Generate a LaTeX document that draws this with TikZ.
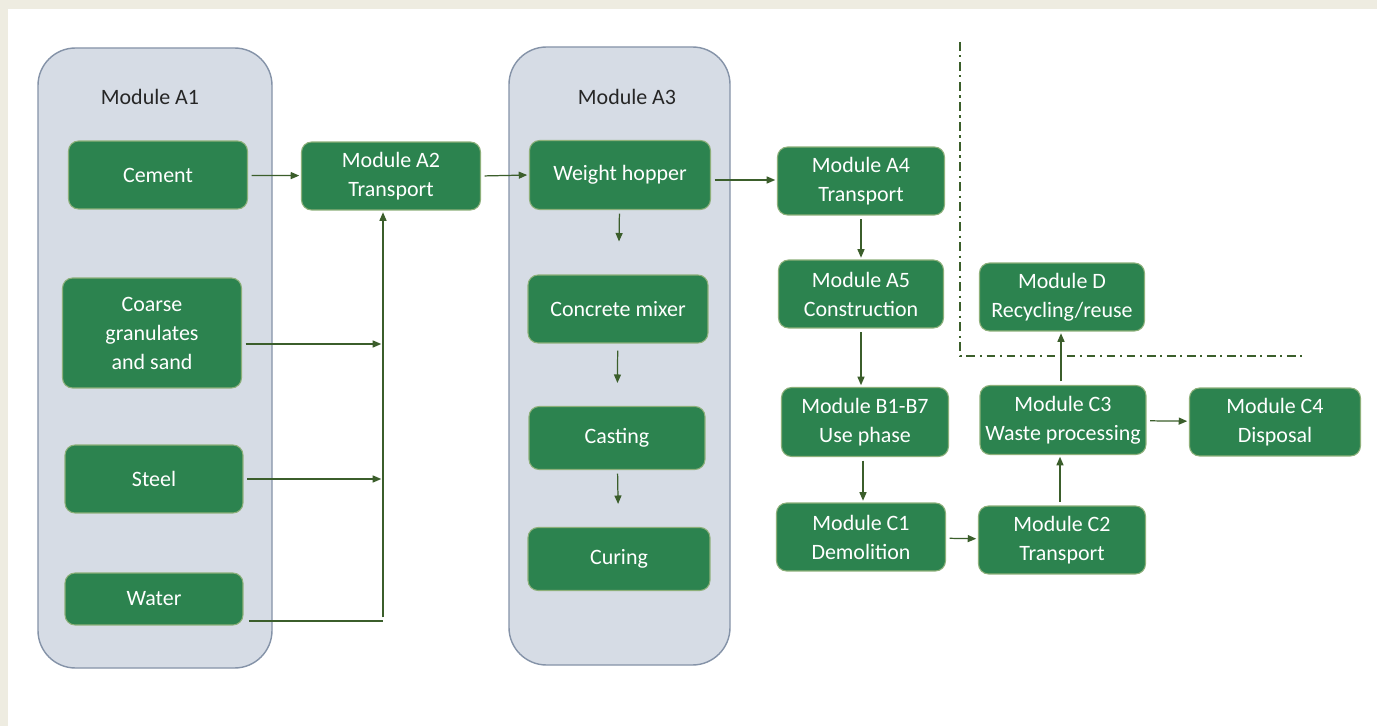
\documentclass[tikz,border=0pt]{standalone}
\usepackage{fontspec}
\setmainfont{Carlito}
\usepackage{tikz}
\usetikzlibrary{arrows.meta}
\definecolor{boxgreen}{HTML}{2C834F}
\definecolor{boxedge}{HTML}{8DB07A}
\definecolor{linegreen}{HTML}{3B5E2B}
\definecolor{groupfill}{HTML}{D6DCE5}
\definecolor{groupedge}{HTML}{8593A8}
\definecolor{pagebeige}{HTML}{EEECE1}

\begin{document}
\begin{tikzpicture}[x=0.02cm, y=-0.02cm,
    every node/.style={font=\fontsize{12.5}{16.5}\selectfont},
    module/.style={draw=boxedge, fill=boxgreen, text=white, rounded corners=0.2cm,
      align=center, inner sep=0pt, line width=0.6pt,
      minimum width=3.34cm, minimum height=1.36cm},
    group/.style={draw=groupedge, fill=groupfill, rounded corners=0.75cm, line width=0.8pt},
    flow/.style={draw=linegreen, line width=0.7pt, shorten <=2pt, shorten >=1pt,
      -{Triangle[length=0.17cm,width=0.14cm]}}]
     % page
     \fill[pagebeige] (0,0) rectangle (1377,726);
     \fill[white] (8,9) rectangle (1377,726);

     % Draw the two groups
     \draw[group] (38,48) rectangle (272,668);
     \node[text=black!85] (labA1) at (150,97) {Module A1};
     \draw[group] (509,47) rectangle (730,665);
     \node[text=black!85] (labA3) at (627,97) {Module A3};

     % raw materials
     \node[module, minimum width=3.58cm] (cement) at (158,175) {Cement};
     \node[module, minimum width=3.58cm, minimum height=2.2cm] (coarse) at (152,333) {Coarse\\granulates\\and sand};
     \node[module, minimum width=3.56cm] (steel) at (154,479) {Steel};
     \node[module, minimum width=3.56cm, minimum height=1.04cm] (water) at (154,599) {Water};
     \node[module, minimum width=3.58cm] (a2) at (391,176) {Module A2\\Transport};

     % production
     \node[module, minimum width=3.62cm, minimum height=1.38cm] (hopper) at (620,175) {Weight hopper};
     \node[module, minimum width=3.6cm] (mixer) at (618,309) {Concrete mixer};
     \node[module, minimum width=3.52cm, minimum height=1.26cm] (casting) at (617,438) {Casting};
     \node[module, minimum width=3.64cm, minimum height=1.26cm] (curing) at (619,559) {Curing};

     % after the plant
     \node[module] (a4) at (861,181) {Module A4\\Transport};
     \node[module, minimum width=3.3cm] (a5) at (861,294) {Module A5\\Construction};
     \node[module, minimum height=1.38cm] (b) at (865,422) {Module B1-B7\\Use phase};
     \node[module, minimum width=3.38cm] (c1) at (861,537) {Module C1\\Demolition};
     \node[module] (c2) at (1062,540) {Module C2\\Transport};
     \node[module, minimum width=3.32cm, minimum height=1.38cm] (c3) at (1063,420) {Module C3\\Waste processing};
     \node[module, minimum width=3.42cm] (c4) at (1275,422) {Module C4\\Disposal};
     \node[module, minimum width=3.3cm] (d) at (1062,297) {Module D\\Recycling/reuse};

     % inputs into transport
     \coordinate (join) at (383,621);
     \draw[flow] (cement) -- (a2);
     \draw[flow] ([yshift=-0.22cm]coarse.east) -- ([yshift=-0.22cm]coarse.east -| join);
     \draw[flow] (steel.east) -- (steel.east -| join);
     \draw[draw=linegreen, line width=0.7pt] ([xshift=3pt]water.east |- join) -- (join);
     \draw[flow] (join) -- (join |- a2.south);
     \draw[flow] (a2.east) -- (hopper.west);

     % inside module A3
     \draw[flow, shorten >=0.66cm] (hopper) -- (mixer);
     \draw[flow, shorten <=4pt, shorten >=0.46cm] (mixer) -- (casting);
     \draw[flow, shorten >=0.46cm] (casting) -- (curing);

     % life cycle
     \draw[flow] ([yshift=-0.1cm]hopper.east) -- ([yshift=-0.1cm]hopper.east -| a4.west);
     \draw[flow] (a4) -- (a5);
     \draw[flow] (a5.south) -- (a5.south |- b.north);
     \draw[flow] ([xshift=-0.04cm]b.south) -- ([xshift=-0.04cm]b.south |- c1.north);
     \draw[flow] (c1) -- (c2);
     \draw[flow] ([xshift=-0.04cm]c2.north) -- ([xshift=-0.04cm]c2.north |- c3.south);
     \draw[flow] (c3) -- (c4);
     \draw[flow] ([xshift=-0.04cm]c3.north) -- ([xshift=-0.04cm]c3.north |- d.south);

     % system boundary
     \draw[linegreen, line width=1.1pt, dash pattern=on 5pt off 2.6pt on 1.2pt off 2.6pt]
       (960,42) -- (960,356) -- (1305,356);
\end{tikzpicture}
\end{document}
